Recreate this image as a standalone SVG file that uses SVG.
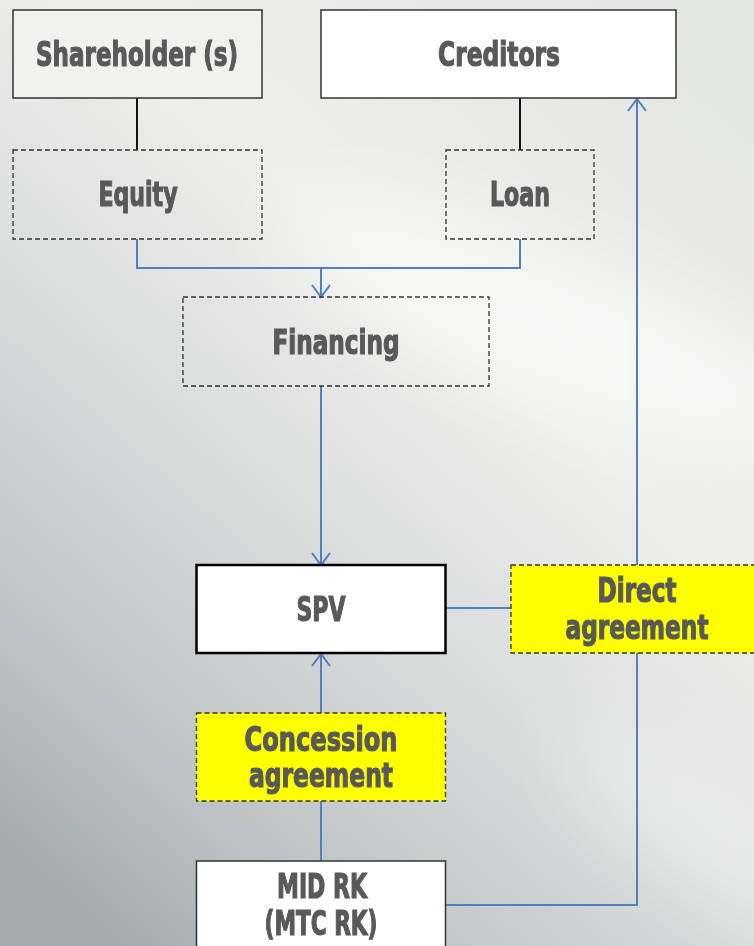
<svg xmlns="http://www.w3.org/2000/svg" width="754" height="946" viewBox="0 0 754 946">
<style>
.lbl{font-family:"Liberation Sans Narrow","DejaVu Sans Condensed","Liberation Sans",sans-serif;font-weight:bold;font-size:34px;fill:#595959;stroke:#595959;stroke-width:1.2;text-anchor:middle}
.solid{stroke:#333;stroke-width:1.5}
.dash{fill:none;stroke:#333;stroke-width:1.3;stroke-dasharray:5,3}
.ydash{fill:#ffff00;stroke:#333;stroke-width:1.3;stroke-dasharray:5,3}
.blue{fill:none;stroke:#4f81bd;stroke-width:2}
.blk{fill:none;stroke:#111;stroke-width:2}
</style>
<defs>
<linearGradient id="bg" x1="0.85" y1="0" x2="0.15" y2="1">
<stop offset="0" stop-color="#e4e6e4"/>
<stop offset="0.35" stop-color="#eeeeec"/>
<stop offset="0.6" stop-color="#d9dbdb"/>
<stop offset="0.85" stop-color="#bcc1c3"/>
<stop offset="1" stop-color="#a3aaae"/>
</linearGradient>
<filter id="blur" x="-50%" y="-50%" width="200%" height="200%"><feGaussianBlur stdDeviation="45"/></filter>
<marker id="arr" viewBox="0 0 20 20" refX="18" refY="10" markerWidth="20" markerHeight="20" markerUnits="userSpaceOnUse" orient="auto">
<path d="M6,1 L18,10 L6,19" fill="none" stroke="#4f81bd" stroke-width="2"/>
</marker>
</defs>
<rect x="0" y="0" width="754" height="946" fill="url(#bg)"/>
<g filter="url(#blur)" fill="#ffffff">
<ellipse cx="560" cy="330" rx="300" ry="60" transform="rotate(22 560 330)" opacity="0.7"/>
<ellipse cx="700" cy="820" rx="160" ry="40" transform="rotate(35 700 820)" opacity="0.5"/>
</g>
<g id="connectors">
<line class="blk" x1="137" y1="98" x2="137" y2="150"/>
<line class="blk" x1="520" y1="98" x2="520" y2="150"/>
<polyline class="blue" points="137,239 137,268 520,268 520,239"/>
<line class="blue" x1="321" y1="268" x2="321" y2="297" marker-end="url(#arr)"/>
<line class="blue" x1="321" y1="386" x2="321" y2="565" marker-end="url(#arr)"/>
<line class="blue" x1="446" y1="608" x2="511" y2="608"/>
<line class="blue" x1="637" y1="565" x2="637" y2="99" marker-end="url(#arr)"/>
<polyline class="blue" points="637,653 637,905 446,905"/>
<line class="blue" x1="321" y1="713" x2="321" y2="654" marker-end="url(#arr)"/>
<line class="blue" x1="321" y1="801" x2="321" y2="861"/>
</g>
<g id="shareholders">
<rect x="13" y="10" width="249" height="88" fill="#f1f1ef" class="solid"/>
<text class="lbl" x="137" y="66" textLength="202" lengthAdjust="spacingAndGlyphs">Shareholder (s)</text>
</g>
<g id="creditors">
<rect x="321" y="10" width="355" height="88" fill="#ffffff" class="solid"/>
<text class="lbl" x="499" y="66" textLength="122" lengthAdjust="spacingAndGlyphs">Creditors</text>
</g>
<g id="equity">
<rect x="13" y="150" width="249" height="89" class="dash"/>
<text class="lbl" x="138" y="206" textLength="79" lengthAdjust="spacingAndGlyphs">Equity</text>
</g>
<g id="loan">
<rect x="446" y="150" width="148" height="89" class="dash"/>
<text class="lbl" x="520" y="206" textLength="60" lengthAdjust="spacingAndGlyphs">Loan</text>
</g>
<g id="financing">
<rect x="183" y="297" width="306" height="89" class="dash"/>
<text class="lbl" x="336" y="354" textLength="127" lengthAdjust="spacingAndGlyphs">Financing</text>
</g>
<g id="spv">
<rect x="196.5" y="565" width="249" height="88" fill="#ffffff" stroke="#000" stroke-width="2.5"/>
<text class="lbl" x="321" y="621" textLength="49" lengthAdjust="spacingAndGlyphs">SPV</text>
</g>
<g id="direct-agreement">
<rect x="511" y="565" width="250" height="88" class="ydash"/>
<text class="lbl" x="637" y="602" textLength="79" lengthAdjust="spacingAndGlyphs">Direct</text>
<text class="lbl" x="637" y="639" textLength="143" lengthAdjust="spacingAndGlyphs">agreement</text>
</g>
<g id="concession-agreement">
<rect x="196.5" y="713" width="249" height="88" class="ydash"/>
<text class="lbl" x="321" y="751" textLength="153" lengthAdjust="spacingAndGlyphs">Concession</text>
<text class="lbl" x="321" y="787" textLength="144" lengthAdjust="spacingAndGlyphs">agreement</text>
</g>
<g id="mid-rk">
<rect x="196.5" y="861" width="249" height="95" fill="#ffffff" class="solid"/>
<text class="lbl" x="322" y="898" textLength="90" lengthAdjust="spacingAndGlyphs">MID RK</text>
<text class="lbl" x="321" y="935" textLength="113" lengthAdjust="spacingAndGlyphs">(MTC RK)</text>
</g>
</svg>
